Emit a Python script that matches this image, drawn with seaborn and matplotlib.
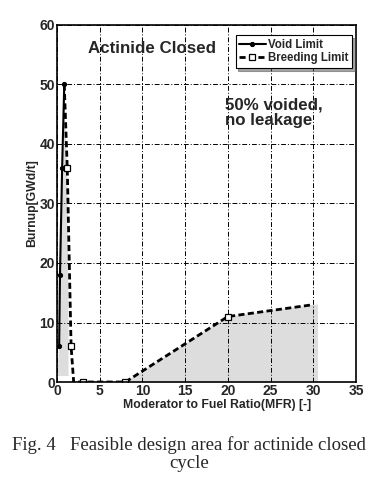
import matplotlib
matplotlib.use("Agg")
import matplotlib.pyplot as plt
import seaborn as sns
import pandas as pd

# data
void_x = [0.25, 0.35, 0.6, 0.85]
void_y = [6, 18, 36, 50]
breed_x = [0.85, 1.2, 1.65, 1.95, 3, 8, 20, 30]
breed_y = [50, 36, 6, 0, 0, 0, 11, 13]
# feasible area outlines
area_left_x = [0.05, 0.25, 0.35, 0.6, 0.85, 1.2, 1.35, 1.35]
area_left_y = [1, 6, 18, 36, 48, 36, 10, 1]
area_right_x = [8, 20, 30, 30.55, 30.55]
area_right_y = [0, 11, 13, 13, 0]
x_ticks = [0, 5, 10, 15, 20, 25, 30, 35]
y_ticks = [0, 10, 20, 30, 40, 50, 60]

sns.set_style("white")
plt.rcParams['font.family'] = ['Liberation Sans', 'DejaVu Sans']

fig = plt.figure(figsize=(3.78, 4.87), dpi=100)
ax = fig.add_axes([57/378, 1-382/487, (356-57)/378, (382-25)/487])

ax.fill(area_left_x, area_left_y, color="#dddddd", lw=0, zorder=0.5)
ax.fill(area_right_x, area_right_y, color="#dddddd", lw=0, zorder=0.5)

dv = pd.DataFrame({"x": void_x, "y": void_y})
db = pd.DataFrame({"x": breed_x, "y": breed_y})
sns.lineplot(data=dv, x="x", y="y", sort=False, ax=ax, color="black", lw=1.5,
             marker="o", markersize=3, markeredgecolor="black",
             label="Void Limit", zorder=3)
sns.lineplot(data=db, x="x", y="y", sort=False, ax=ax, color="black", lw=2,
             linestyle=(0, (2.2, 1.2)), marker="s", markersize=4,
             markerfacecolor="white", markeredgecolor="black", markeredgewidth=0.9,
             markevery=[1, 2, 4, 5, 6], label="Breeding Limit", zorder=3)

ax.set_xlim(0, 35)
ax.set_ylim(0, 60)
ax.set_xticks(x_ticks)
ax.set_yticks(y_ticks)
ax.grid(True, color="black", linestyle=(0, (5, 2, 1, 2)), linewidth=0.7, zorder=1)
ax.set_axisbelow(False)
for s in ax.spines.values():
    s.set_color("black")
    s.set_linewidth(1.2)
    s.set_zorder(4)
ax.tick_params(length=0, pad=1.5, labelsize=10)
for t in ax.get_xticklabels() + ax.get_yticklabels():
    t.set_fontweight("bold")

ax.set_xlabel("Moderator to Fuel Ratio(MFR) [-]", fontsize=8.8, fontweight="bold")
ax.set_ylabel("Burnup[GWd/t]", fontsize=8.8, fontweight="bold")
ax.xaxis.set_label_coords(0.535, -0.047)
ax.yaxis.set_label_coords(-0.062, 0.5)

ax.text(3.6, 56.1, "Actinide Closed", fontsize=12.2, fontweight="bold", va="center", ha="left")
ax.text(19.7, 45.2, "50% voided,\nno leakage", fontsize=12.2, fontweight="bold",
        va="center", ha="left", linespacing=1.05)

leg = ax.legend(loc="upper right", bbox_to_anchor=(0.99, 0.975), fontsize=8.3,
                frameon=True, fancybox=False, shadow=True, handlelength=2.3,
                handletextpad=0.2, borderpad=0.3, labelspacing=0.15,
                borderaxespad=0.1, edgecolor="black", framealpha=1)
leg.get_frame().set_linewidth(0.8)
for t in leg.get_texts():
    t.set_fontweight("bold")

fig.text(0.5, 1-445/487, "Fig. 4   Feasible design area for actinide closed",
         ha="center", va="center", fontsize=13.5, family=["Liberation Serif", "DejaVu Serif"])
fig.text(0.5, 1-463/487, "cycle", ha="center", va="center", fontsize=13.5,
         family=["Liberation Serif", "DejaVu Serif"])

fig.savefig("out.png", dpi=100, facecolor="white")
